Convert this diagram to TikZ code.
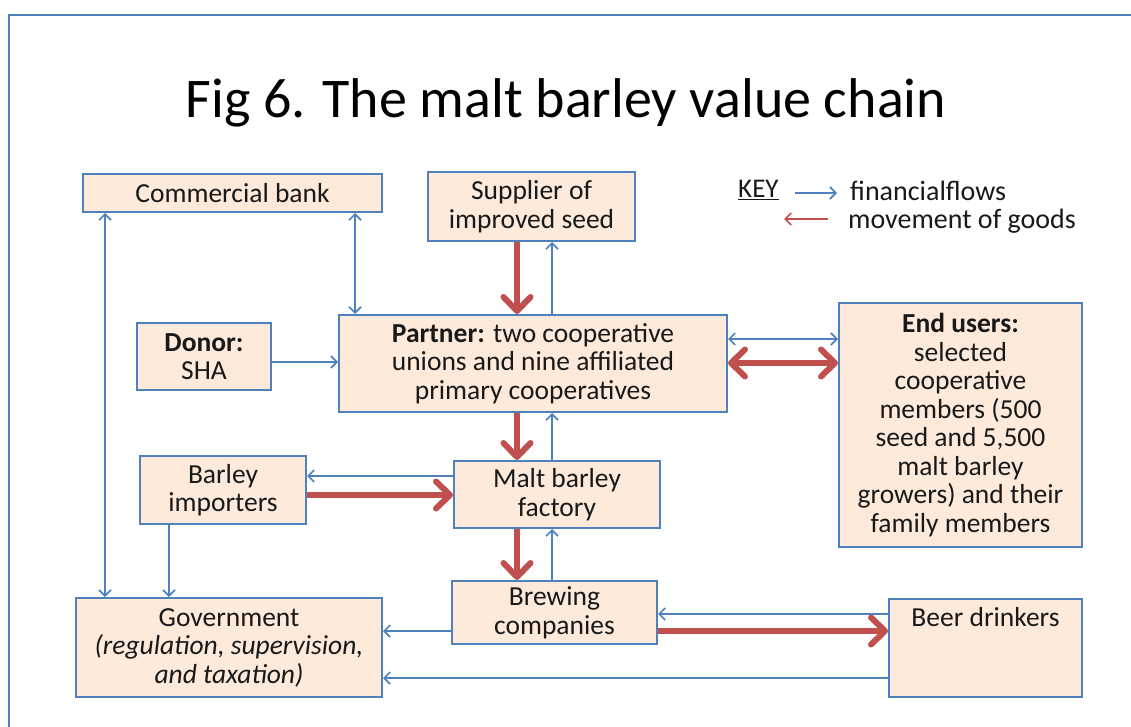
\documentclass[tikz,border=0pt]{standalone}
\usepackage{fontspec}
\setmainfont{Carlito}
\usetikzlibrary{arrows.meta}
\definecolor{boxfill}{RGB}{253,234,218}
\definecolor{boxline}{RGB}{79,129,189}
\definecolor{goods}{RGB}{192,80,77}
\begin{document}
\begin{tikzpicture}[x=1pt,y=-1pt,
  box/.style={draw=boxline, line width=2pt, fill=boxfill, inner sep=0pt, align=center, font=\fontsize{27.5}{28.5}\selectfont, text=black!90},
  money/.style={draw=boxline, line width=1.7pt, -{Straight Barb[length=6pt,width=12pt]}},
  money2/.style={draw=boxline, line width=1.7pt, {Straight Barb[length=6pt,width=12pt]}-{Straight Barb[length=6pt,width=12pt]}},
  goodsarrow/.style={draw=goods, line width=6pt, -{Straight Barb[length=14pt,width=27pt,round]}},
  goods2/.style={draw=goods, line width=6pt, {Straight Barb[length=14pt,width=27pt,round]}-{Straight Barb[length=14pt,width=27pt,round]}},
  keytext/.style={font=\fontsize{28}{30}\selectfont, anchor=west, inner sep=0pt, text=black!90}
]
\useasboundingbox (0,0) rectangle (1131,727);
% frame
\draw[boxline, line width=1.8pt] (9,727) -- (9,15) -- (1131,15);
% title
\node[font=\fontsize{56}{60}\selectfont, inner sep=0pt] (title) at (566,103) {Fig 6. The malt barley value chain};
% boxes
\node[box, minimum width=299pt, minimum height=38pt] (bank) at (232.5,193) {Commercial bank};
\node[box, minimum width=207pt, minimum height=69pt] (supplier) at (531.5,206.5) {Supplier of\\improved seed};
\node[box, minimum width=388pt, minimum height=97pt] (partner) at (533,363.5) {\textbf{Partner:} two cooperative\\unions and nine affiliated\\primary cooperatives};
\node[box, minimum width=134pt, minimum height=67pt] (donor) at (204,356.5) {\textbf{Donor:}\\SHA};
\node[box, minimum width=243pt, minimum height=244pt] (endusers) at (960.5,425) {\textbf{End users:}\\selected\\cooperative\\members (500\\seed and 5,500\\malt barley\\growers) and their\\family members};
\node[box, minimum width=166pt, minimum height=68pt] (importers) at (223,490) {Barley\\importers};
\node[box, minimum width=206pt, minimum height=67pt] (factory) at (557,494.5) {Malt barley\\factory};
\node[box, minimum width=205pt, minimum height=63pt] (brewing) at (554.5,612.5) {Brewing\\companies};
\node[box, minimum width=306pt, minimum height=99pt] (gov) at (229,647.5) {Government\\\textit{(regulation, supervision,}\\\textit{and taxation)}};
\node[box, minimum width=193pt, minimum height=98pt,
  label={[anchor=north, yshift=-9pt, inner sep=0pt, font=\fontsize{27.5}{28.5}\selectfont, text=black!90]north:{Beer drinkers}}] (beer) at (985.5,648) {};
% x / y reference coordinates
\coordinate (xa) at (105,0);
\coordinate (xb) at (355,0);
\coordinate (xc) at (517,0);
\coordinate (xd) at (552,0);
\coordinate (xe) at (169,0);
\coordinate (ya) at (0,362);
\coordinate (yb) at (0,339);
\coordinate (yc) at (0,363);
\coordinate (yd) at (0,476);
\coordinate (ye) at (0,495);
\coordinate (yf) at (0,631);
\coordinate (yg) at (0,614);
\coordinate (yh) at (0,678);
% financial flows
\draw[money2] (bank.south -| xa) -- (gov.north -| xa);
\draw[money2] (bank.south -| xb) -- (partner.north -| xb);
\draw[money] (donor.east |- ya) -- (partner.west |- ya);
\draw[money] (partner.north -| xd) -- (supplier.south -| xd);
\draw[money2] (partner.east |- yb) -- (endusers.west |- yb);
\draw[money] (factory.north -| xd) -- (partner.south -| xd);
\draw[money] (factory.west |- yd) -- (importers.east |- yd);
\draw[money] (importers.south -| xe) -- (gov.north -| xe);
\draw[money] (brewing.north -| xd) -- (factory.south -| xd);
\draw[money] (brewing.west |- yf) -- (gov.east |- yf);
\draw[money] (beer.west |- yg) -- (brewing.east |- yg);
\draw[money] (beer.west |- yh) -- (gov.east |- yh);
% goods
\draw[goodsarrow] (supplier.south -| xc) -- (partner.north -| xc);
\draw[goods2] (partner.east |- yc) -- (endusers.west |- yc);
\draw[goodsarrow] (partner.south -| xc) -- (factory.north -| xc);
\draw[goodsarrow] (importers.east |- ye) -- (factory.west |- ye);
\draw[goodsarrow] (factory.south -| xc) -- (brewing.north -| xc);
\draw[goodsarrow] (brewing.east |- yf) -- (beer.west |- yf);
% key
\node[keytext, font=\fontsize{27}{30}\selectfont] (key) at (738,190) {\underline{KEY}};
\coordinate (k1) at (795,193);
\coordinate (k2) at (837,193);
\coordinate (k3) at (828,219);
\coordinate (k4) at (784,219);
\draw[money] (k1) -- (k2);
\draw[draw=goods, line width=1.7pt, -{Straight Barb[length=6pt,width=12pt]}] (k3) -- (k4);
\node[keytext] (kf) at (850,191) {financialflows};
\node[keytext] (kg) at (848,221) {movement of goods};
\end{tikzpicture}
\end{document}
